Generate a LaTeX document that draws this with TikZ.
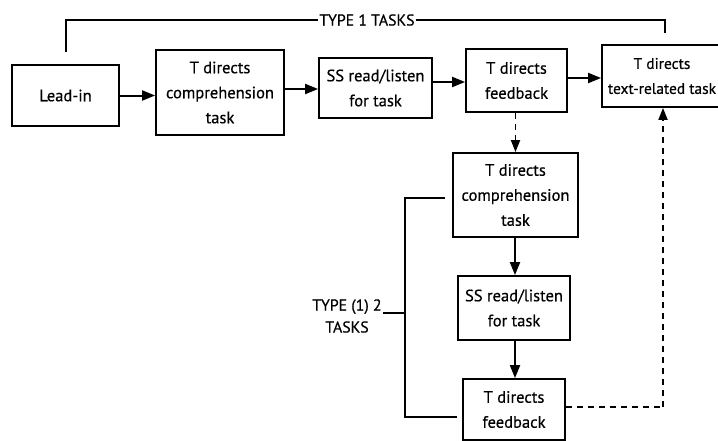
\documentclass[tikz,border=0pt]{standalone}
\usepackage{fontspec}
\setmainfont{PT Sans}
\newfontfamily\calfont{PT Sans}[FakeBold=0.5]
\usetikzlibrary{arrows.meta}
\newlength\calw
\AtBeginDocument{%
\settowidth\calw{\calfont\fontsize{10}{12}\selectfont comprehension}%
\ifdim\calw<1pt \setlength\calw{67pt}\fi
\pgfmathsetmacro\tmpv{1080/\calw}\xdef\mainfs{\tmpv}%
\settowidth\calw{\calfont\fontsize{10}{12}\selectfont text-related task}%
\ifdim\calw<1pt \setlength\calw{74pt}\fi
\pgfmathsetmacro\tmpv{min(\mainfs,1080/\calw)}\xdef\trfs{\tmpv}%
\settowidth\calw{\calfont\fontsize{10}{12}\selectfont TYPE 1 TASKS}%
\ifdim\calw<1pt \setlength\calw{60pt}\fi
\pgfmathsetmacro\tmpv{950/\calw}\xdef\lblfs{\tmpv}}
\begin{document}
\begin{tikzpicture}[x=1pt,y=-1pt,
  box/.style={draw,line width=1.8pt,rectangle,align=center,inner sep=0pt,
    font=\calfont\fontsize{\mainfs}{25}\selectfont},
  arr/.style={line width=2pt,-{Triangle[length=13pt,width=10pt]}},
  darr/.style={line width=1.8pt,dash pattern=on 6pt off 5pt,-{Triangle[length=12pt,width=9pt]}},
  dline/.style={line width=1.8pt,dash pattern=on 6pt off 5pt},
  brk/.style={line width=1.8pt},
  lbl/.style={font=\calfont\fontsize{\lblfs}{22}\selectfont,align=center,inner sep=1pt}]
\useasboundingbox (0,0) rectangle (718,440);
\clip (0,0) rectangle (718,440);
% top row
\node[box,minimum width=107pt,minimum height=61pt] (lead) at (65.5,95.5) {Lead-in};
\node[box,minimum width=128pt,minimum height=85pt] (comp1) at (220,92.5) {T directs\\comprehension\\task};
\node[box,minimum width=113pt,minimum height=60pt] (ss1) at (375.5,88) {SS read/listen\\for task};
\node[box,minimum width=101pt,minimum height=63pt] (fb1) at (516.5,80.5) {T directs\\feedback};
\node[box,minimum width=120pt,minimum height=62pt,font=\calfont\fontsize{\trfs}{25}\selectfont] (tr) at (662,76) {T directs\\text-related task};
% lower column
\node[box,minimum width=125pt,minimum height=84pt] (comp2) at (515.5,195) {T directs\\comprehension\\task};
\node[box,minimum width=112pt,minimum height=64pt] (ss2) at (514,308) {SS read/listen\\for task};
\node[box,minimum width=102pt,minimum height=61pt] (fb2) at (514,409.5) {T directs\\feedback};
% labels
\node[lbl] (t1) at (367,20) {TYPE 1 TASKS};
\node[lbl] (t2) at (347,316) {TYPE (1) 2\\TASKS};
% arrows top row
\draw[arr] (lead) -- (lead -| comp1.west);
\draw[arr] (comp1.east |- 0,89) -- (ss1.west |- 0,89);
\draw[arr] (ss1.east |- 0,82) -- (fb1.west |- 0,82);
\draw[arr] (fb1.east |- 0,78) -- (tr.west |- 0,78);
% lower arrows
\draw[darr] (fb1.south -| comp2.north) -- (comp2.north);
\draw[arr] (comp2.south -| 515,0) -- (ss2.north -| 515,0);
\draw[arr] (ss2.south -| 515,0) -- (fb2.north -| 515,0);
% dashed return
\coordinate (corner) at (663,407);
\draw[dline] (fb2.east |- corner) -- (corner);
\draw[darr] (corner) -- (663,0 |- tr.south);
% top bracket
\coordinate (b1) at (66,52);
\coordinate (b2) at (665,33);
\draw[brk] (b1) |- (t1.west);
\draw[brk] (t1.east) -| (b2);
% lower bracket
\coordinate (l1) at (445,198);
\coordinate (l2) at (457,417);
\coordinate (lt) at (405,198);
\coordinate (lb) at (405,417);
\draw[brk] (l1) -- (lt) -- (lb) -- (l2);
\draw[brk] (t2.east |- 0,313) -- (405,313);
\end{tikzpicture}
\end{document}
